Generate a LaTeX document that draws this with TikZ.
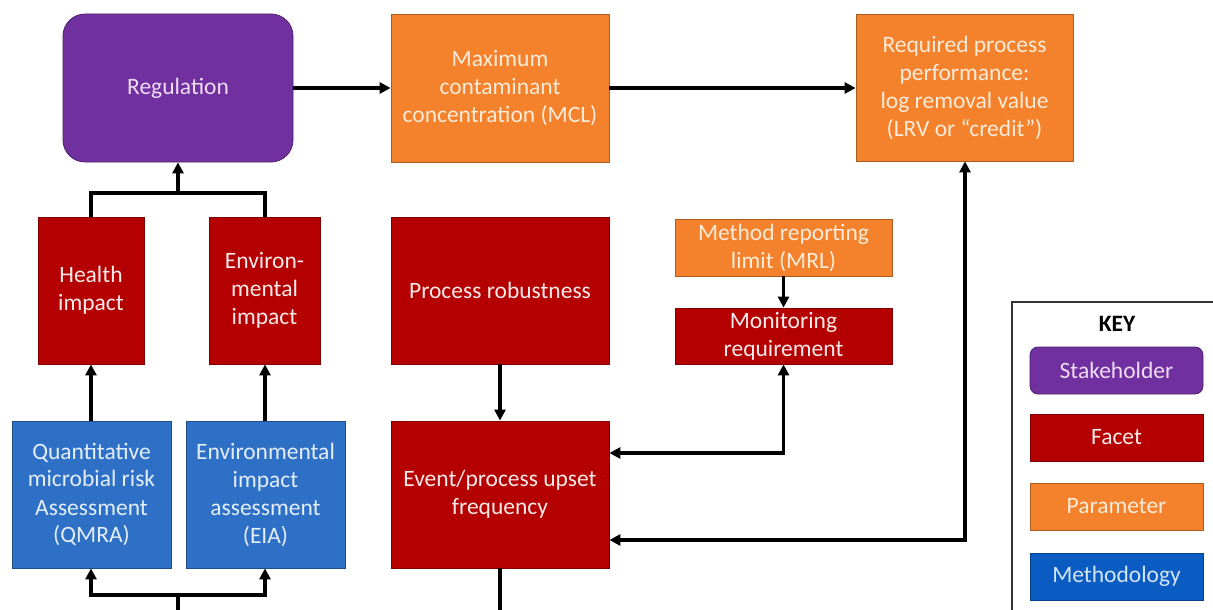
\documentclass[tikz,border=0pt]{standalone}
\usepackage{fontspec}
\setmainfont{Carlito}
\usetikzlibrary{arrows.meta}
\definecolor{cpurple}{HTML}{7030A0}
\definecolor{cred}{HTML}{B40000}
\definecolor{corange}{HTML}{F4822C}
\definecolor{cblue}{HTML}{2E70C6}
\definecolor{ckblue}{HTML}{0B5CC2}
\definecolor{tpurple}{HTML}{EEDDF5}
\definecolor{tred}{HTML}{FCEAEA}
\definecolor{torange}{HTML}{FDEBD9}
\definecolor{tblue}{HTML}{E4EEFB}
\definecolor{tkblue}{HTML}{D2E5F8}
\tikzset{
  base/.style={rectangle, inner sep=0pt, align=center, font=\fontsize{23.5}{28}\selectfont, line width=0.8pt},
  stake/.style={base, fill=cpurple, draw=cpurple!70!black, text=tpurple, rounded corners=22pt},
  facet/.style={base, fill=cred, draw=cred!70!black, text=tred},
  param/.style={base, fill=corange, draw=corange!70!black, text=torange},
  meth/.style={base, fill=cblue, draw=cblue!70!black, text=tblue},
  conn/.style={line width=3.2pt, line join=miter, -{Triangle[length=11pt,width=11pt]}},
  dconn/.style={line width=3.2pt, {Triangle[length=11pt,width=11pt]}-{Triangle[length=11pt,width=11pt]}},
  plain/.style={line width=3.2pt},
}
\begin{document}
\begin{tikzpicture}[x=1pt,y=-1pt]
\clip (0,0) rectangle (1213,610);
\fill[white] (0,0) rectangle (1213,610);
% main boxes
\node[stake, minimum width=230pt, minimum height=148pt] (reg) at (178,88) {Regulation};
\node[param, minimum width=218pt, minimum height=148pt] (mcl) at (500,88) {Maximum\\contaminant\\concentration (MCL)};
\node[param, minimum width=217pt, minimum height=147pt] (lrv) at (964.5,87.5) {Required process\\performance:\\log removal value\\(LRV or “credit”)};
\node[facet, minimum width=106pt, minimum height=147pt] (health) at (91,290.5) {Health\\impact};
\node[facet, minimum width=111pt, minimum height=147pt] (env) at (264.5,290.5) {Environ-\\mental\\impact};
\node[facet, minimum width=218pt, minimum height=147pt] (rob) at (500,290.5) {Process robustness};
\node[param, minimum width=217pt, minimum height=57pt] (mrl) at (783.5,247.5) {Method reporting\\limit (MRL)};
\node[facet, minimum width=217pt, minimum height=56pt] (mon) at (783.5,336) {Monitoring\\requirement};
\node[meth, minimum width=159pt, minimum height=147pt] (qmra) at (91.5,494.5) {Quantitative\\microbial risk\\Assessment\\(QMRA)};
\node[meth, minimum width=159pt, minimum height=147pt] (eia) at (265.5,494.5) {Environmental\\impact\\assessment\\(EIA)};
\node[facet, minimum width=218pt, minimum height=147pt] (evt) at (500,494.5) {Event/process upset\\frequency};
% connectors
\draw[conn] (reg.east) -- (mcl.west);
\draw[conn] (mcl.east) -- (mcl.east -| lrv.west);
\coordinate (j1) at (178,193);
\draw[plain] (health.north -| 91,0) |- (j1) -| (env.north -| 265,0);
\draw[conn] (j1) -- (reg.south);
\draw[conn] (qmra.north -| 91,0) -- (health.south -| 91,0);
\draw[conn] (eia.north -| 265,0) -- (env.south -| 265,0);
\draw[conn] (rob.south) -- (evt.north);
\draw[conn] (mrl.south) -- (mon.north);
\draw[dconn] (evt.east |- 0,453) -| (mon.south);
\draw[dconn] (evt.east |- 0,540) -| (lrv.south -| 965,0);
\coordinate (b1) at (178,615);
\coordinate (j2) at (178,595);
\draw[plain] (b1) -- (j2);
\draw[conn] (j2) -| (qmra.south -| 91,0);
\draw[conn] (j2) -| (eia.south -| 265,0);
\coordinate (b2) at (500,615);
\draw[plain] (evt.south) -- (b2);
% key
\draw[line width=1.4pt, draw=black!80] (1012,302) rectangle (1230,640);
\node[font=\fontsize{23.5}{28}\selectfont\bfseries] (key) at (1117,324) {KEY};
\node[stake, rounded corners=8pt, minimum width=173pt, minimum height=47pt] (k1) at (1116.5,370.5) {Stakeholder};
\node[facet, minimum width=173pt, minimum height=47pt] (k2) at (1116.5,437.5) {Facet};
\node[param, minimum width=173pt, minimum height=47pt] (k3) at (1116.5,506.5) {Parameter};
\node[meth, fill=ckblue, draw=ckblue!70!black, text=tkblue, minimum width=173pt, minimum height=47pt] (k4) at (1116.5,576.5) {Methodology};
\end{tikzpicture}
\end{document}
